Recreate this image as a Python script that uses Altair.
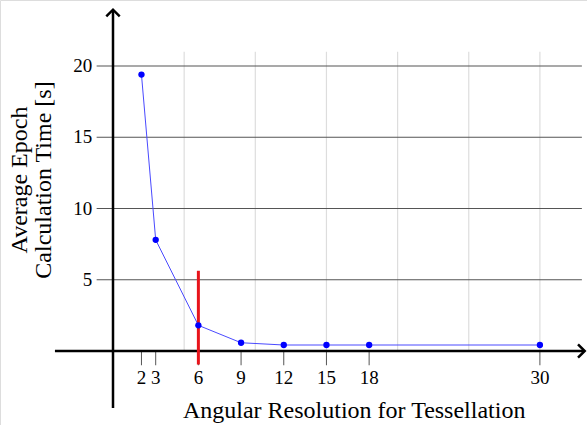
import altair as alt
import pandas as pd

# ---- data ----
resolution = [2, 3, 6, 9, 12, 15, 18, 30]
epoch_time = [19.4, 7.8, 1.8, 0.58, 0.42, 0.42, 0.42, 0.42]
x_tick_labels = [2, 3, 6, 9, 12, 15, 18, 30]
y_tick_values = [5, 10, 15, 20]
x_grid_values = [5, 10, 15, 20, 25, 30]
chosen_resolution = 6

W, H = 587, 425
X0_PX, X_UNIT = 113, 14.23
Y0_PX, Y_UNIT = 351, 14.25
xdom = [-X0_PX / X_UNIT, (W - X0_PX) / X_UNIT]
ydom = [-(H - Y0_PX) / Y_UNIT, Y0_PX / Y_UNIT]

xs = alt.Scale(domain=xdom, nice=False, zero=False)
ys = alt.Scale(domain=ydom, nice=False, zero=False)
FONT = "Liberation Serif"

def X(f="x"):
    return alt.X(f"{f}:Q", scale=xs, axis=None)

def Y(f="y"):
    return alt.Y(f"{f}:Q", scale=ys, axis=None)

series = pd.DataFrame({"x": resolution, "y": epoch_time})

# vertical light grid
vgrid = alt.Chart(pd.DataFrame({"x": x_grid_values, "y": 0.0, "y2": 21.0})).mark_rule(
    color="#dddddd", strokeWidth=1.2
).encode(x=X(), y=Y(), y2="y2:Q")

# horizontal dark grid (extends to tick labels)
hgrid = alt.Chart(pd.DataFrame({"y": y_tick_values, "x": -1.15, "x2": 32.95})).mark_rule(
    color="#555555", strokeWidth=1.2
).encode(y=Y(), x=X(), x2="x2:Q")

# small ticks under the x axis
xticks = alt.Chart(pd.DataFrame({"x": x_tick_labels, "y": 0.0, "y2": -1.0})).mark_rule(
    color="#555555", strokeWidth=1
).encode(x=X(), y=Y(), y2="y2:Q")

# axes lines
xaxis = alt.Chart(pd.DataFrame({"y": [0.0], "x": [-4.08], "x2": [33.1]})).mark_rule(
    color="black", strokeWidth=2.5
).encode(y=Y(), x=X(), x2="x2:Q")
yaxis = alt.Chart(pd.DataFrame({"x": [0.0], "y": [-4.0], "y2": [23.9]})).mark_rule(
    color="black", strokeWidth=2.5
).encode(x=X(), y=Y(), y2="y2:Q")

# arrowheads
yarrow = alt.Chart(pd.DataFrame({"x": [0.0], "y": [23.95]})).mark_point(
    shape="M-1,1L0,0L1,1", size=180, filled=False, stroke="black", strokeWidth=2.5, opacity=1
).encode(x=X(), y=Y())
xarrow = alt.Chart(pd.DataFrame({"x": [33.15], "y": [0.0]})).mark_point(
    shape="M-1,-1L0,0L-1,1", size=180, filled=False, stroke="black", strokeWidth=2.5, opacity=1
).encode(x=X(), y=Y())

# data line + points
line = alt.Chart(series).mark_line(color="#4a4aff", strokeWidth=1).encode(x=X(), y=Y())
pts = alt.Chart(series).mark_circle(color="#0000ff", size=40, opacity=1).encode(x=X(), y=Y())

# red marker at chosen resolution
red = alt.Chart(pd.DataFrame({"x": [chosen_resolution], "y": [5.63], "y2": [-0.95]})).mark_rule(
    color="#e8141b", strokeWidth=3
).encode(x=X(), y=Y(), y2="y2:Q")

# tick labels
xlab = alt.Chart(pd.DataFrame({"x": x_tick_labels, "y": -2.3, "t": [str(v) for v in x_tick_labels]})).mark_text(
    font=FONT, fontSize=19, color="black", baseline="alphabetic", align="center"
).encode(x=X(), y=Y(), text="t:N")
ylab = alt.Chart(pd.DataFrame({"y": y_tick_values, "x": -1.45, "t": [str(v) for v in y_tick_values]})).mark_text(
    font=FONT, fontSize=19, color="black", baseline="middle", align="right"
).encode(x=X(), y=Y(), text="t:N")

# titles
xtitle = alt.Chart(pd.DataFrame({"x": [16.95], "y": [-4.72], "t": ["Angular Resolution for Tessellation"]})).mark_text(
    font=FONT, fontSize=24, color="black", baseline="alphabetic", align="center"
).encode(x=X(), y=Y(), text="t:N")
ytitle = alt.Chart(pd.DataFrame({"x": [-6.55, -4.88], "y": [12.0, 12.0], "t": ["Average Epoch", "Calculation Time [s]"]})).mark_text(
    font=FONT, fontSize=24, color="black", baseline="middle", align="center", angle=270
).encode(x=X(), y=Y(), text="t:N")

chart = alt.layer(
    vgrid, hgrid, xticks, xaxis, yaxis, yarrow, xarrow, line, red, pts, xlab, ylab, xtitle, ytitle
).properties(
    width=W, height=H, padding=0, autosize=alt.AutoSizeParams(type="none")
).configure_view(stroke=None).configure(background="white")

chart.save("out.html", embed_options={"renderer": "svg", "actions": False})
